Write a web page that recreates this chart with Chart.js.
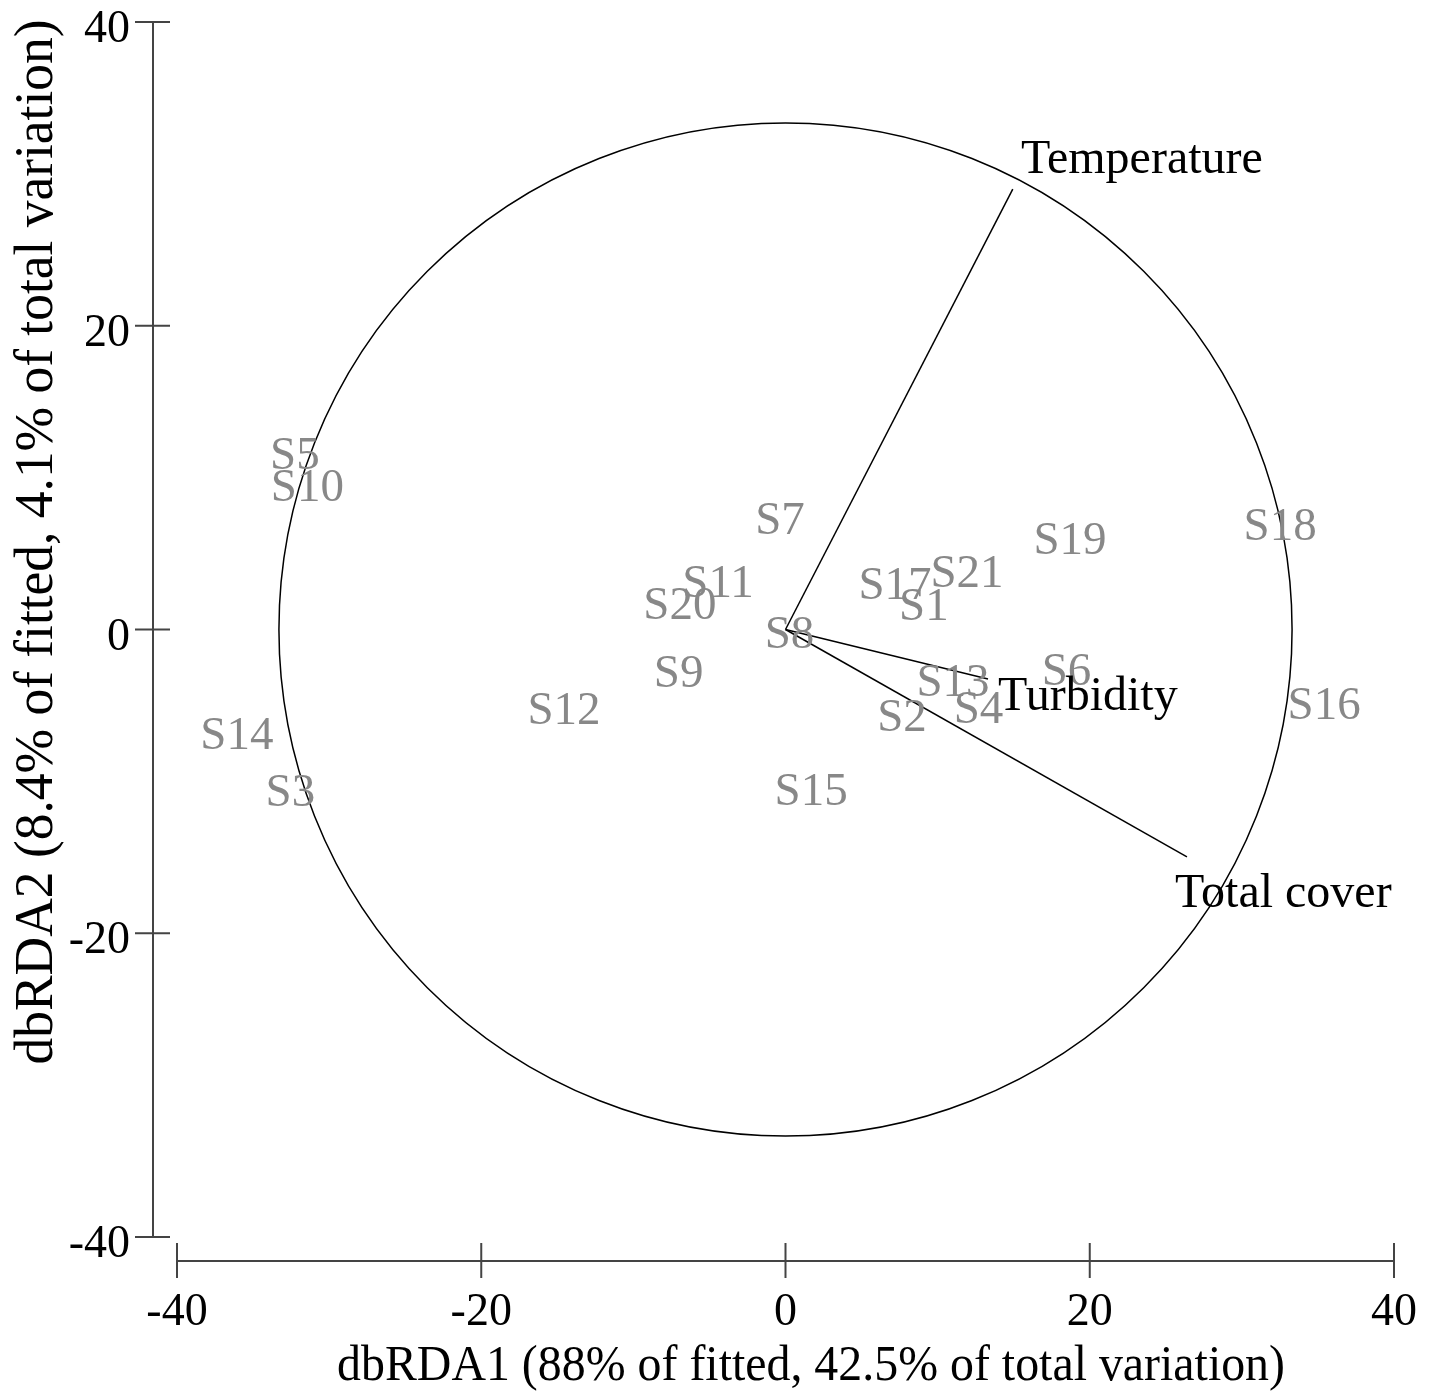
<!DOCTYPE html>
<html>
<head>
<meta charset="utf-8">
<script src="https://cdn.jsdelivr.net/npm/chart.js@4.4.1/dist/chart.umd.min.js"></script>
<style>
  html, body { margin: 0; padding: 0; background: #fff; }
  #wrap { width: 1436px; height: 1391px; }
</style>
</head>
<body>
<div id="wrap"><canvas id="chart" width="1436" height="1391"></canvas></div>
<script>
// dbRDA ordination — sample scores and predictor vectors
const sampleNames = ["S1", "S2", "S3", "S4", "S5", "S6", "S7", "S8", "S9", "S10", "S11",
  "S12", "S13", "S14", "S15", "S16", "S17", "S18", "S19", "S20", "S21"];
const sampleX = [9.10, 7.66, -32.55, 12.69, -32.25, 18.47, -0.36, 0.26, -7.03, -31.43, -4.44,
  -14.56, 11.01, -36.06, 1.68, 35.41, 7.20, 32.51, 18.70, -6.94, 11.93];
const sampleY = [1.55, -5.73, -10.66, -5.23, 11.52, -2.73, 7.24, -0.26, -2.83, 9.41, 3.06,
  -5.30, -3.42, -6.91, -10.63, -4.97, 2.93, 6.81, 5.89, 1.65, 3.72];

const vectorNames = ["Temperature", "Turbidity", "Total cover"];
const vectorX = [14.94, 13.31, 26.39];
const vectorY = [29.0, -3.26, -14.97];
// where each vector's name sits (left edge / baseline, plot units)
const vectorLabelX = [15.48, 13.97, 25.61];
const vectorLabelY = [30.05, -5.30, -18.27];

const circleRadius = 33.3;
const axisTicks = [-40, -20, 0, 20, 40];
const xTitle = "dbRDA1 (88% of fitted, 42.5% of total variation)";
const yTitle = "dbRDA2 (8.4% of fitted, 4.1% of total variation)";

const SERIF = "'Liberation Serif', 'Times New Roman', serif";

const samplePoints = sampleX.map((x, i) => ({ x, y: sampleY[i] }));

const vectorSets = vectorNames.map((name, i) => ({
  label: name,
  data: [{ x: 0, y: 0 }, { x: vectorX[i], y: vectorY[i] }],
  showLine: true,
  borderColor: "#000",
  borderWidth: 1.5,
  pointRadius: 0,
  pointHoverRadius: 0,
}));

// detached axes, correlation circle and all the text
const ordinationPlugin = {
  id: "ordination",
  beforeDatasetsDraw(chart) {
    const { ctx, chartArea, scales: { x, y } } = chart;
    ctx.save();
    // circle
    const cx = x.getPixelForValue(0), cy = y.getPixelForValue(0);
    const r = x.getPixelForValue(circleRadius) - cx;
    ctx.strokeStyle = "#000";
    ctx.lineWidth = 1.5;
    ctx.beginPath();
    ctx.arc(cx, cy, r, 0, Math.PI * 2);
    ctx.stroke();

    // y axis, set off to the left
    ctx.strokeStyle = "#444";
    ctx.lineWidth = 2;
    const ax = chartArea.left - 24;
    ctx.beginPath();
    ctx.moveTo(ax, y.getPixelForValue(40));
    ctx.lineTo(ax, y.getPixelForValue(-40));
    axisTicks.forEach((v) => {
      const py = y.getPixelForValue(v);
      ctx.moveTo(chartArea.left - 42, py);
      ctx.lineTo(chartArea.left - 7, py);
    });
    ctx.stroke();

    // x axis, set off below
    const ay = chartArea.bottom + 24;
    ctx.beginPath();
    ctx.moveTo(x.getPixelForValue(-40), ay);
    ctx.lineTo(x.getPixelForValue(40), ay);
    axisTicks.forEach((v) => {
      const px = x.getPixelForValue(v);
      ctx.moveTo(px, chartArea.bottom + 6);
      ctx.lineTo(px, chartArea.bottom + 41);
    });
    ctx.stroke();
    ctx.restore();
  },
  afterDatasetsDraw(chart) {
    const { ctx, scales: { x, y } } = chart;
    ctx.save();
    // sample labels centred on their scores
    const meta = chart.getDatasetMeta(0);
    ctx.font = "47px " + SERIF;
    ctx.fillStyle = "#888";
    ctx.textAlign = "center";
    ctx.textBaseline = "middle";
    meta.data.forEach((pt, i) => ctx.fillText(sampleNames[i], pt.x, pt.y + 2));

    // vector names
    ctx.font = "48px " + SERIF;
    ctx.fillStyle = "#000";
    ctx.textAlign = "left";
    ctx.textBaseline = "alphabetic";
    vectorNames.forEach((name, i) => {
      ctx.fillText(name, x.getPixelForValue(vectorLabelX[i]), y.getPixelForValue(vectorLabelY[i]));
    });

    // axis titles (not centred on the axes in the original)
    ctx.textAlign = "center";
    ctx.font = "50px " + SERIF;
    ctx.fillText(xTitle, 811, 1380, 948);
    ctx.translate(52, 542);
    ctx.rotate(-Math.PI / 2);
    ctx.font = "54px " + SERIF;
    ctx.fillText(yTitle, 0, 0, 1045);
    ctx.restore();
  },
};

const tickFont = { family: SERIF, size: 46 };

new Chart(document.getElementById("chart"), {
  type: "scatter",
  data: {
    datasets: [
      { label: "samples", data: samplePoints, pointRadius: 0, pointHoverRadius: 0 },
      ...vectorSets,
    ],
  },
  options: {
    responsive: false,
    animation: false,
    events: [],
    layout: { padding: { left: 0, top: 22, right: 42, bottom: 0 } },
    plugins: { legend: { display: false }, tooltip: { enabled: false } },
    scales: {
      x: {
        type: "linear",
        min: -40, max: 40,
        afterBuildTicks: (s) => { s.ticks = axisTicks.map((v) => ({ value: v })); },
        afterFit: (s) => { s.height = 154; s.paddingLeft = 0; s.paddingRight = 0; },
        grid: { display: false, drawTicks: false },
        border: { display: false },
        ticks: { color: "#000", font: tickFont, padding: 48, maxRotation: 0 },
      },
      y: {
        type: "linear",
        min: -40, max: 40,
        afterBuildTicks: (s) => { s.ticks = axisTicks.map((v) => ({ value: v })); },
        afterFit: (s) => { s.width = 177; s.paddingTop = 0; s.paddingBottom = 0; },
        grid: { display: false, drawTicks: false },
        border: { display: false },
        ticks: { color: "#000", font: tickFont, padding: 47, labelOffset: 8 },
      },
    },
  },
  plugins: [ordinationPlugin],
});
</script>
</body>
</html>
